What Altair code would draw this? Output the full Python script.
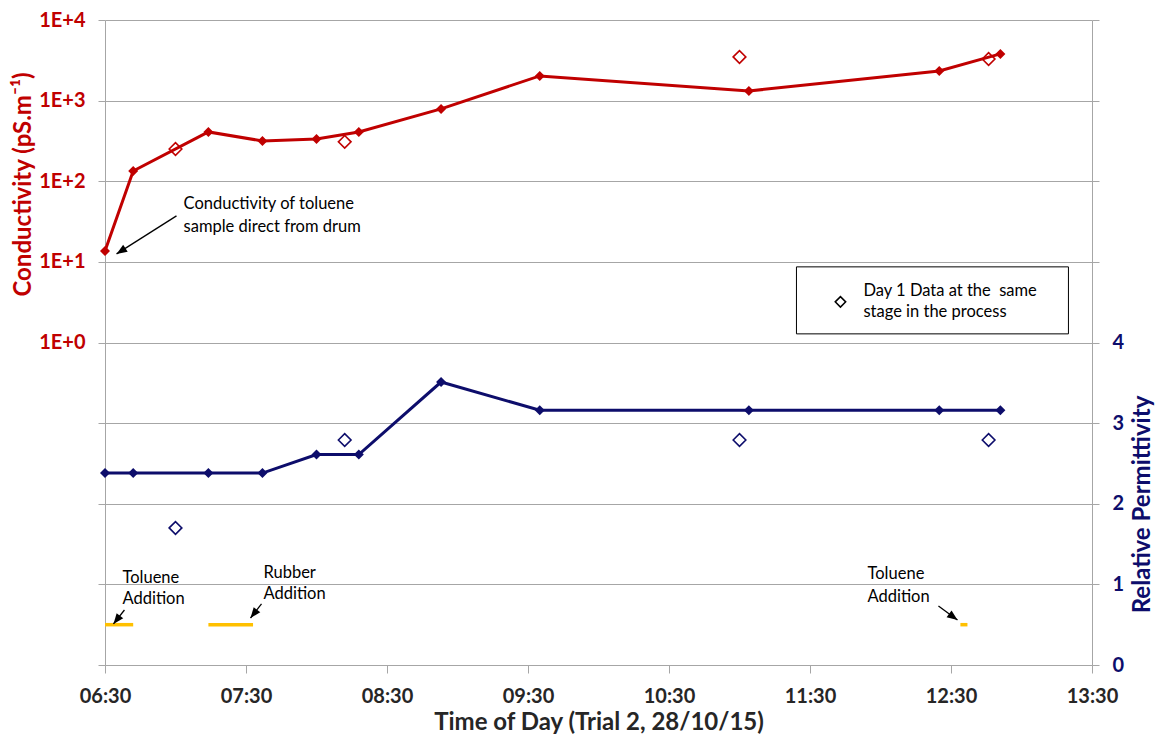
import math
import altair as alt
import pandas as pd

# ---------------- data ----------------
times = ["06:30", "06:42", "07:14", "07:37", "08:00", "08:18", "08:53", "09:35", "11:04", "12:25", "12:51"]
conductivity = [13.6, 134, 409, 316, 335, 409, 789, 2025, 1318, 2336, 3795]
permittivity = [2.38, 2.38, 2.38, 2.38, 2.61, 2.61, 3.51, 3.16, 3.16, 3.16, 3.16]

day1_times = ["07:00", "08:12", "11:00", "12:46"]
day1_conductivity = [251, 308, 3483, 3288]
day1_permittivity = [1.70, 2.79, 2.79, 2.79]

add_start = ["06:30", "07:14", "12:34"]
add_end = ["06:42", "07:33", "12:37"]
add_level = [0.5, 0.5, 0.5]

# annotation anchors (x in hours, y in right-axis units)
note_x = [7.057, 7.057, 6.624, 6.624, 7.624, 7.624, 11.908, 11.908]
note_y = [5.720, 5.434, 1.079, 0.819, 1.141, 0.881, 1.129, 0.844]
note_text = ["Conductivity of toluene", "sample direct from drum",
             "Toluene", "Addition", "Rubber", "Addition", "Toluene", "Addition"]

arrow_x0 = [7.007, 6.638, 7.610, 12.411]
arrow_y0 = [5.571, 0.682, 0.757, 0.732]
arrow_x1 = [6.582, 6.560, 7.532, 12.546]
arrow_y1 = [5.099, 0.509, 0.583, 0.558]

legend_box = {"h": [11.404], "h2": [13.333], "v": [4.938], "v2": [4.107]}
legend_marker = {"h": [11.716], "v": [4.504]}
legend_text = ["Day 1 Data at the\u00a0 same", "stage in the process"]
legend_text_x = [11.879, 11.879]
legend_text_y = [4.640, 4.380]

x_ticks = [6.5, 7.5, 8.5, 9.5, 10.5, 11.5, 12.5, 13.5]
left_ticks = [1e-4, 1e-3, 1e-2, 1e-1, 1, 10, 100, 1000, 10000]
right_ticks = [0, 1, 2, 3, 4, 5, 6, 7, 8]

# ---------------- style ----------------
W, H = 987, 645
FONT = "Lato"
RED = "#C00000"
NAVY = "#0D0D6B"
GOLD = "#FFC000"
GRID = "#A6A6A6"
TXT = "#262626"
TICK_FS = 20
TITLE_FS = 24
NOTE_FS = 16.5


def hrs(t):
    h, m = t.split(":")
    return int(h) + int(m) / 60.0


red_df = pd.DataFrame({"h": [hrs(t) for t in times], "cond": conductivity})
blue_df = pd.DataFrame({"h": [hrs(t) for t in times], "v": permittivity})
red_d1 = pd.DataFrame({"h": [hrs(t) for t in day1_times], "cond": day1_conductivity})
blue_d1 = pd.DataFrame({"h": [hrs(t) for t in day1_times], "v": day1_permittivity})
add_df = pd.DataFrame({"h": [hrs(t) for t in add_start], "h2": [hrs(t) for t in add_end], "v": add_level})
notes_df = pd.DataFrame({"h": note_x, "v": note_y, "t": note_text})

px_h = W / 7.0
px_v = H / 8.0
angles = []
for x0, y0, x1, y1 in zip(arrow_x0, arrow_y0, arrow_x1, arrow_y1):
    dx = (x1 - x0) * px_h
    dy = -(y1 - y0) * px_v
    angles.append(math.degrees(math.atan2(dx, -dy)) % 360)
arrows_df = pd.DataFrame({"h": arrow_x0, "v": arrow_y0, "h2": arrow_x1, "v2": arrow_y1})
heads_df = pd.DataFrame({"h": arrow_x1, "v": arrow_y1, "ang": angles})

lbox_df = pd.DataFrame(legend_box)
lmark_df = pd.DataFrame(legend_marker)
ltext_df = pd.DataFrame({"h": legend_text_x, "v": legend_text_y, "t": legend_text})

x_enc = alt.X(
    "h:Q",
    scale=alt.Scale(domain=[6.5, 13.5], nice=False, zero=False),
    axis=alt.Axis(
        orient="bottom", values=x_ticks, grid=False, labelFlush=False,
        labelExpr="timeFormat(datetime(2000,0,1,floor(datum.value),round((datum.value-floor(datum.value))*60)),'%H:%M')",
        domainColor=GRID, tickColor=GRID, tickSize=8,
        labelFont=FONT, labelFontSize=TICK_FS, labelFontWeight="bold", labelColor=TXT, labelPadding=13,
        title="Time of Day (Trial 2, 28/10/15)", titleFont=FONT, titleFontSize=TITLE_FS,
        titleFontWeight="bold", titleColor=TXT, titleY=45, titleBaseline="top",
    ),
)
x2_enc = alt.X2("h2:Q")

y_left = alt.Y(
    "cond:Q",
    scale=alt.Scale(type="log", domain=[1e-4, 1e4], nice=False),
    axis=alt.Axis(
        orient="left", values=left_ticks, labelFlush=False,
        labelExpr="datum.value >= 1 ? '1E+' + round(log(datum.value)/LN10) : ''",
        grid=True, gridColor=GRID, gridWidth=1,
        domainColor=GRID, tickColor=GRID, tickSize=7,
        labelFont=FONT, labelFontSize=TICK_FS, labelFontWeight="bold", labelColor=RED, labelPadding=13,
        title="Conductivity (pS.m⁻¹)", titleFont=FONT, titleFontSize=TITLE_FS, titleFontWeight="bold",
        titleColor=RED, titleAngle=270, titleX=-70, titleY=164, titleBaseline="bottom", titleAlign="center",
    ),
)

y_right = alt.Y(
    "v:Q",
    scale=alt.Scale(domain=[0, 8], nice=False, zero=True),
    axis=alt.Axis(
        orient="right", values=right_ticks, labelFlush=False,
        labelExpr="datum.value <= 4 ? datum.label : ''",
        grid=False, domainColor=GRID, tickColor=GRID, tickSize=7,
        labelFont=FONT, labelFontSize=TICK_FS, labelFontWeight="bold", labelColor=NAVY, labelPadding=13,
        title="Relative Permittivity", titleFont=FONT, titleFontSize=TITLE_FS, titleFontWeight="bold",
        titleColor=NAVY, titleAngle=270, titleX=62, titleY=484, titleBaseline="bottom", titleAlign="center",
    ),
)
y2_enc = alt.Y2("v2:Q")

# ---------------- left (log) group ----------------
red_line = alt.Chart(red_df).mark_line(color=RED, strokeWidth=3).encode(x=x_enc, y=y_left)
red_pts = alt.Chart(red_df).mark_point(shape="diamond", size=100, filled=True, color=RED, opacity=1).encode(x=x_enc, y=y_left)
red_open = alt.Chart(red_d1).mark_point(shape="diamond", size=160, filled=False, color=RED, strokeWidth=1.6, opacity=1).encode(x=x_enc, y=y_left)
left = alt.layer(red_line, red_pts, red_open)

# ---------------- right (linear) group ----------------
box = alt.Chart(lbox_df).mark_rect(fill="white", stroke="black", strokeWidth=1).encode(x=x_enc, x2=x2_enc, y=y_right, y2=y2_enc)
blue_line = alt.Chart(blue_df).mark_line(color=NAVY, strokeWidth=3).encode(x=x_enc, y=y_right)
blue_pts = alt.Chart(blue_df).mark_point(shape="diamond", size=100, filled=True, color=NAVY, opacity=1).encode(x=x_enc, y=y_right)
blue_open = alt.Chart(blue_d1).mark_point(shape="diamond", size=160, filled=False, color=NAVY, strokeWidth=1.6, opacity=1).encode(x=x_enc, y=y_right)
adds = alt.Chart(add_df).mark_rule(color=GOLD, strokeWidth=3.5).encode(x=x_enc, x2=x2_enc, y=y_right)
arrow_lines = alt.Chart(arrows_df).mark_rule(color="black", strokeWidth=1.3).encode(x=x_enc, x2=x2_enc, y=y_right, y2=y2_enc)
arrow_heads = alt.Chart(heads_df).mark_point(
    shape="M0,0L0.8,2L-0.8,2Z", size=110, filled=True, color="black", opacity=1
).encode(x=x_enc, y=y_right, angle=alt.Angle("ang:Q", scale=None))
notes = alt.Chart(notes_df).mark_text(align="left", baseline="middle", font=FONT, fontSize=NOTE_FS, color="black").encode(
    x=x_enc, y=y_right, text="t:N")
lmark = alt.Chart(lmark_df).mark_point(shape="diamond", size=110, filled=False, color="black", strokeWidth=1.5, opacity=1).encode(x=x_enc, y=y_right)
ltext = alt.Chart(ltext_df).mark_text(align="left", baseline="middle", font=FONT, fontSize=NOTE_FS, color="black").encode(
    x=x_enc, y=y_right, text="t:N")
right = alt.layer(box, adds, blue_line, blue_pts, blue_open, arrow_lines, arrow_heads, notes, lmark, ltext)

chart = (
    alt.layer(left, right)
    .resolve_scale(y="independent")
    .properties(
        width=W, height=H,
        autosize=alt.AutoSizeParams(type="none"),
        padding={"left": 97, "top": 12, "right": 66, "bottom": 71},
        background="white",
    )
    .configure_view(stroke=None)
)

chart.save("out.html", embed_options={"renderer": "svg", "actions": False})
